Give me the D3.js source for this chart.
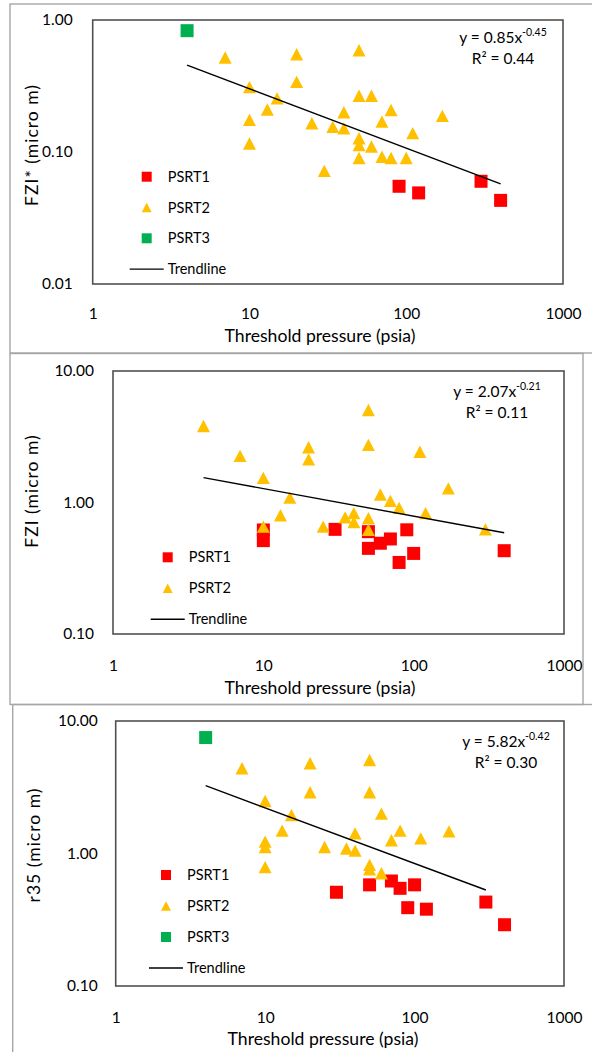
<!DOCTYPE html>
<html>
<head>
<meta charset="utf-8">
<script src="https://cdn.jsdelivr.net/npm/d3@7"></script>
<style>
  body { margin: 0; background: #fff; }
  svg { display: block; }
  text { font-family: Lato, "Open Sans", sans-serif; fill: #000; }
</style>
</head>
<body>
<svg id="chart" width="592" height="1052"></svg>
<script>
// ---- data -------------------------------------------------------------
// Threshold pressure (psia) axis ticks, shared by every panel
const pressureTicks = [1, 10, 100, 1000];

// FZI* (micro m) vs threshold pressure
const fziStarPSRT1 = [[90, 0.055], [120, 0.049], [300, 0.060], [400, 0.043]];
const fziStarPSRT2 = [
  [7, 0.52], [10, 0.31], [10, 0.175], [10, 0.116], [13, 0.21], [15, 0.255],
  [20, 0.55], [20, 0.34], [25, 0.165], [30, 0.072], [34, 0.155], [40, 0.20],
  [40, 0.151], [50, 0.59], [50, 0.267], [50, 0.127], [50, 0.113], [50, 0.09],
  [60, 0.267], [60, 0.11], [70, 0.17], [70, 0.092], [80, 0.208], [80, 0.09],
  [100, 0.09], [110, 0.139], [170, 0.188]
];
const fziStarPSRT3 = [[4, 0.83]];
const fziStarTicks = [0.01, 0.1, 1];
const fziStarFit = { a: 0.85, b: -0.45, r2: "0.44", xFrom: 4, xTo: 400 };

// FZI (micro m) vs threshold pressure
const fziPSRT1 = [
  [10, 0.618], [10, 0.513], [30, 0.625], [50, 0.60], [50, 0.448], [60, 0.49],
  [70, 0.528], [80, 0.35], [90, 0.62], [100, 0.41], [400, 0.43]
];
const fziPSRT2 = [
  [4, 3.82], [7, 2.26], [10, 1.54], [10, 0.655], [13, 0.80], [15, 1.09],
  [20, 2.63], [20, 2.13], [25, 0.655], [35, 0.77], [40, 0.83], [40, 0.71],
  [50, 5.05], [50, 2.74], [50, 0.76], [50, 0.62], [60, 1.15], [70, 1.03],
  [80, 0.91], [110, 2.43], [120, 0.83], [170, 1.28], [300, 0.625]
];
const fziTicks = [0.1, 1, 10];
const fziFit = { a: 2.07, b: -0.21, r2: "0.11", xFrom: 4, xTo: 400 };

// r35 (micro m) vs threshold pressure
const r35PSRT1 = [
  [30, 0.51], [50, 0.58], [70, 0.62], [80, 0.546], [90, 0.39], [100, 0.58],
  [120, 0.38], [300, 0.43], [400, 0.29]
];
const r35PSRT2 = [
  [7, 4.4], [10, 2.49], [10, 1.23], [10, 1.12], [10, 0.79], [13, 1.49],
  [15, 1.95], [20, 4.8], [20, 2.9], [25, 1.12], [35, 1.09], [40, 1.42],
  [40, 1.05], [50, 5.08], [50, 2.9], [50, 0.82], [50, 0.76], [60, 2.0],
  [60, 0.71], [70, 1.26], [80, 1.49], [110, 1.30], [170, 1.47]
];
const r35PSRT3 = [[4, 7.5]];
const r35Ticks = [0.1, 1, 10];
const r35Fit = { a: 5.82, b: -0.42, r2: "0.30", xFrom: 4, xTo: 300 };

// ---- styling ----------------------------------------------------------
const COLORS = { PSRT1: "#ff0000", PSRT2: "#ffc000", PSRT3: "#00b050" };
const fmtY = d3.format(".2f");
const fmtX = d3.format("d");

const svg = d3.select("#chart");

// Panel layouts (pixel boxes for each chart)
const panels = [
  {
    frame: { x: 10, y: 4, w: 600, h: 349 },
    plot: { left: 92.7, top: 20, right: 563, bottom: 284 },
    yTicks: fziStarTicks, yPad: 20, xPad: 24,
    yTitle: "FZI* (micro m)", yTitleX: 38, yTitleY: 145,
    xTitleX: 320, xTitleY: 342,
    series: [["PSRT1", fziStarPSRT1], ["PSRT2", fziStarPSRT2], ["PSRT3", fziStarPSRT3]],
    fit: fziStarFit, eqX: 503, eqY: 43,
    legend: { x: 146.7, y: 176.7, step: 30.8 }
  },
  {
    frame: { x: 10, y: 353.5, w: 573, h: 351 },
    plot: { left: 113, top: 371, right: 564, bottom: 634 },
    yTicks: fziTicks, yPad: 19, xPad: 26,
    yTitle: "FZI (micro m)", yTitleX: 38, yTitleY: 491,
    xTitleX: 320, xTitleY: 694,
    series: [["PSRT1", fziPSRT1], ["PSRT2", fziPSRT2]],
    fit: fziFit, eqX: 497, eqY: 397,
    legend: { x: 167.7, y: 557.3, step: 31 }
  },
  {
    frame: { x: 12.7, y: 704.5, w: 600, h: 400 },
    plot: { left: 115.7, top: 721, right: 564, bottom: 986 },
    yTicks: r35Ticks, yPad: 18, xPad: 26,
    yTitle: "r35 (micro m)", yTitleX: 40, yTitleY: 845,
    xTitleX: 323, xTitleY: 1045,
    series: [["PSRT1", r35PSRT1], ["PSRT2", r35PSRT2], ["PSRT3", r35PSRT3]],
    fit: r35Fit, eqX: 506, eqY: 747,
    legend: { x: 166, y: 875, step: 31 }
  }
];

function trianglePath(cx, cy, w, h) {
  return `M${cx},${cy - h / 2}L${cx + w / 2},${cy + h / 2}L${cx - w / 2},${cy + h / 2}Z`;
}

function drawMarker(g, name, cx, cy, s) {
  if (name === "PSRT2") {
    g.append("path")
      .attr("d", trianglePath(cx, cy, s, s * 0.95))
      .attr("fill", COLORS[name]);
  } else {
    g.append("rect")
      .attr("x", cx - s / 2).attr("y", cy - s / 2)
      .attr("width", s).attr("height", s)
      .attr("fill", COLORS[name]);
  }
}

panels.forEach(p => {
  const g = svg.append("g");

  // outer chart frame
  g.append("rect")
    .attr("x", p.frame.x).attr("y", p.frame.y)
    .attr("width", p.frame.w).attr("height", p.frame.h)
    .attr("fill", "none").attr("stroke", "#a6a6a6").attr("stroke-width", 1.4);

  const x = d3.scaleLog().domain([1, 1000]).range([p.plot.left, p.plot.right]);
  const yDom = d3.extent(p.yTicks);
  const y = d3.scaleLog().domain(yDom).range([p.plot.bottom, p.plot.top]);

  // axes: labels only, no tick marks
  const ax = g.append("g")
    .attr("transform", `translate(${p.plot.left},0)`)
    .call(d3.axisLeft(y).tickValues(p.yTicks).tickFormat(fmtY).tickSize(0).tickPadding(p.yPad));
  const bx = g.append("g")
    .attr("transform", `translate(0,${p.plot.bottom})`)
    .call(d3.axisBottom(x).tickValues(pressureTicks).tickFormat(fmtX).tickSize(0).tickPadding(p.xPad));
  [ax, bx].forEach(a => {
    a.select(".domain").remove();
    a.attr("font-family", null).attr("font-size", null);
    a.selectAll("text").style("font-size", "15.5px").attr("fill", "#000");
  });

  // plot area border
  g.append("rect")
    .attr("x", p.plot.left).attr("y", p.plot.top)
    .attr("width", p.plot.right - p.plot.left)
    .attr("height", p.plot.bottom - p.plot.top)
    .attr("fill", "none").attr("stroke", "#505050").attr("stroke-width", 1.6);

  // data points: PSRT1 first, then PSRT2, then PSRT3
  const marks = g.append("g");
  p.series.forEach(([name, pts]) => {
    pts.forEach(([px, py]) => drawMarker(marks, name, x(px), y(py), 13));
  });

  // power-law trendline from the fitted equation
  const fitX = [p.fit.xFrom, p.fit.xTo];
  g.append("path")
    .datum(fitX)
    .attr("d", d3.line().x(v => x(v)).y(v => y(p.fit.a * Math.pow(v, p.fit.b))))
    .attr("fill", "none").attr("stroke", "#000").attr("stroke-width", 1.4);

  // equation label
  const eq = g.append("text")
    .attr("x", p.eqX).attr("y", p.eqY)
    .attr("text-anchor", "middle")
    .style("font-size", "15.5px");
  eq.append("tspan").text(`y = ${p.fit.a.toFixed(2)}x`);
  eq.append("tspan").attr("dy", -7).style("font-size", "10.5px").text(p.fit.b.toFixed(2));
  g.append("text")
    .attr("x", p.eqX).attr("y", p.eqY + 21)
    .attr("text-anchor", "middle")
    .style("font-size", "15.5px")
    .text(`R\u00b2 = ${p.fit.r2}`);

  // legend
  const lg = g.append("g");
  const entries = p.series.map(s => s[0]).concat(["Trendline"]);
  entries.forEach((name, i) => {
    const cy = p.legend.y + i * p.legend.step;
    if (name === "Trendline") {
      lg.append("line")
        .attr("x1", p.legend.x - 17).attr("x2", p.legend.x + 17)
        .attr("y1", cy).attr("y2", cy)
        .attr("stroke", "#000").attr("stroke-width", 1.4);
    } else {
      drawMarker(lg, name, p.legend.x, cy, 10);
    }
    lg.append("text")
      .attr("x", p.legend.x + 21).attr("y", cy)
      .attr("dy", "0.35em")
      .style("font-size", "14.5px")
      .text(name);
  });

  // axis titles
  g.append("text")
    .attr("x", p.xTitleX).attr("y", p.xTitleY)
    .attr("text-anchor", "middle")
    .style("font-size", "17.6px")
    .text("Threshold pressure (psia)");
  g.append("text")
    .attr("transform", `translate(${p.yTitleX},${p.yTitleY}) rotate(-90)`)
    .attr("text-anchor", "middle")
    .style("font-size", "17.5px")
    .style("letter-spacing", "1px")
    .text(p.yTitle);
});
</script>
</body>
</html>
